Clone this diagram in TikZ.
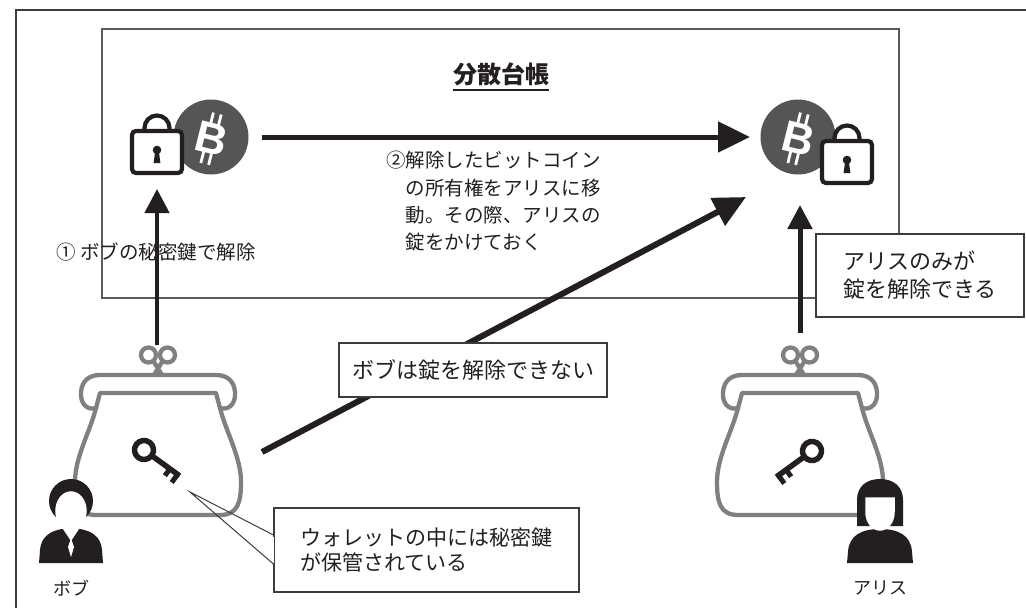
\documentclass[tikz,border=0pt]{standalone}
\usepackage{fontspec}
\setmainfont{Noto Sans CJK JP}
\newfontfamily\coinfont{Liberation Sans}
\usetikzlibrary{arrows.meta}

\definecolor{ink}{RGB}{35,31,32}
\definecolor{coingray}{RGB}{85,85,85}
\definecolor{pursegray}{RGB}{128,128,128}
\definecolor{framegray}{RGB}{60,60,60}
\definecolor{ledgergray}{RGB}{90,90,90}

\newcommand\setfs[2]{\fontsize{#1}{#2}\selectfont}

\tikzset{
  purseline/.style={draw=pursegray, line width=4.3pt, line join=round, line cap=round},
  boxed/.style={draw=framegray, line width=1.1pt, fill=white, text=ink, inner sep=0pt},
  label/.style={text=ink, inner sep=0pt},
  arrowH/.style={draw=ink, line width=5pt, -{Triangle[length=32pt,width=30pt]}},
  arrowV/.style={draw=ink, line width=4.5pt, -{Triangle[length=24pt,width=24pt]}},
  arrowD/.style={draw=ink, line width=6pt, -{Triangle[length=32pt,width=30pt]}},
  % clasp purse, origin at the centre of the top of its frame
  purse/.pic={
    \draw[purseline] (-9.5,-22) circle (7.5pt) (9.5,-22) circle (7.5pt);
    \draw[purseline] (-4,-15) -- (4,-2) (4,-15) -- (-4,-2);
    \draw[purseline, fill=white] (-58,16) -- (58,16) -- (62,31)
      .. controls (72,34) and (78,25) .. (77,15)
      .. controls (76,3) and (68,-2) .. (58,-2) -- (-58,-2)
      .. controls (-68,-2) and (-76,3) .. (-77,15)
      .. controls (-78,25) and (-72,34) .. (-62,31) -- cycle;
    \draw[purseline] (-62,31) .. controls (-68,55) and (-83,80) .. (-83,105)
      .. controls (-83,125) and (-80,138) .. (-62,138) -- (62,138)
      .. controls (80,138) and (83,125) .. (83,105)
      .. controls (83,80) and (68,55) .. (62,31);
  },
  % private key, head at the origin, shaft along +x
  key/.pic={
    \draw[ink, line width=5.5pt] (0,0) circle (9.5pt);
    \draw[ink, line width=5.5pt] (10,0) -- (44,0);
    \draw[ink, line width=5pt] (41.5,-1) -- (41.5,10) (32,-1) -- (32,8.5);
  },
  % padlock, origin at the centre of its body
  lock/.pic={
    \draw[ink, line width=4.2pt] (-12.5,-21) -- (-12.5,-24) arc (180:0:12.5pt) -- (12.5,-21);
    \draw[ink, line width=4.2pt, fill=white, rounded corners=4pt] (-25,-21) rectangle (25,21);
    \fill[ink] (0,-2) circle (4.3pt);
    \fill[ink] (-1.8,-1) -- (1.8,-1) -- (3.4,11) -- (-3.4,11) -- cycle;
  },
  % bitcoin coin
  coin/.pic={
    \fill[coingray] (0,0) circle (37.5pt);
    \node[text=white, inner sep=0pt, rotate=-14,
          font=\coinfont\bfseries\setfs{44}{44}] at (1,2) {B};
    \begin{scope}[shift={(1,2)}, rotate=-14]
      \draw[white, line width=2.8pt] (-5,-26) -- (-5,-14) (3,-26) -- (3,-14)
                                     (-5,14) -- (-5,26) (3,14) -- (3,26);
    \end{scope}
  },
}

\begin{document}
\begin{tikzpicture}[x=1pt, y=-1pt]
\useasboundingbox (0,0) rectangle (1026,608);
\clip (0,0) rectangle (1026,608);
\fill[white] (0,0) rectangle (1026,608);

% outer frame
\draw[framegray, line width=1.3pt] (16,640) -- (16,10) -- (1060,10);

% distributed ledger
\node[draw=ledgergray, line width=1.3pt, minimum width=797pt, minimum height=269pt,
      inner sep=0pt] (ledger) at (500.5,163.5) {};
\node[label, font=\bfseries\setfs{24}{24}] (ledgertitle) at (501,74) {分散台帳};
\draw[ink, line width=1.4pt] ([yshift=-4pt]ledgertitle.south west)
                          -- ([yshift=-4pt]ledgertitle.south east);

% arrow end points
\coordinate (bobcoinout) at (262,137);
\coordinate (alicecoinin) at (750,137);
\coordinate (bobcoinin) at (157,189);
\coordinate (bobpurseout) at (157,345);
\coordinate (alicecoinup) at (800,205);
\coordinate (alicepurseout) at (800,333);
\coordinate (bobkeyout) at (262,452);
\coordinate (alicecoindiag) at (746,197);
\coordinate (keytip) at (190,492);

% arrows
\draw[arrowH] (bobcoinout) -- (alicecoinin);
\draw[arrowV] (bobpurseout) -- (bobcoinin);
\draw[arrowV, line width=5pt] (alicepurseout) -- (alicecoinup);
\draw[arrowD] (bobkeyout) -- (alicecoindiag);

% coins and padlocks
\pic (bobcoin) at (211,137) {coin};
\pic (boblock) at (157,152) {lock};
\pic (alicecoin) at (798,137) {coin};
\pic (alicelock) at (847,162) {lock};

% wallets with keys
\pic (bobwallet) at (158,377) {purse};
\pic (alicewallet) at (800,377) {purse};
\pic[rotate=-36] (bobkey) at (144,450) {key};
\pic[rotate=36, xscale=-1] (alicekey) at (812,451) {key};

% Bob
\fill[ink] (71,501) circle (22pt);
\fill[ink] (39,563) -- (40,550) .. controls (41,537) and (50,531) .. (62,529)
  -- (80,529) .. controls (92,531) and (101,537) .. (102,550) -- (103,563) -- cycle;
\fill[white] (63,529) -- (71,541) -- (79,529) -- cycle;
\fill[white] (71,538) -- (74,547) -- (71,557) -- (68,547) -- cycle;
\filldraw[fill=white, draw=white, line width=1.5pt] (71,511) ellipse (15pt and 19pt);
\node[label, font=\setfs{18}{18}] (bobname) at (71,588) {ボブ};

% Alice
\fill[ink] (857,526) -- (857,500) .. controls (857,486) and (867,479) .. (880,479)
  .. controls (893,479) and (903,486) .. (903,500) -- (903,526) -- cycle;
\fill[ink] (847,563) -- (848,552) .. controls (849,535) and (862,529) .. (880,529)
  .. controls (898,529) and (911,535) .. (912,552) -- (913,563) -- cycle;
\filldraw[fill=white, draw=white, line width=1.5pt] (866,498) -- (894,498) -- (894,512)
  .. controls (894,523) and (887,530) .. (880,530)
  .. controls (873,530) and (866,523) .. (866,512) -- cycle;
\node[label, font=\setfs{18}{18}] (alicename) at (880,588) {アリス};

% step labels
\node[label, anchor=west, font=\setfs{19.5}{19.5}] (stepone) at (56,252)
  {① ボブの秘密鍵で解除};
\node[label, anchor=north west, align=left, font=\setfs{19.5}{27.3}] (steptwo) at (386,151)
  {②解除したビットコイン\\\hspace*{1em}の所有権をアリスに移\\\hspace*{1em}動。その際、アリスの\\\hspace*{1em}錠をかけておく};

% notes
\node[boxed, minimum width=268pt, minimum height=54pt, font=\setfs{22}{22}]
  (bobcannot) at (473,370) {ボブは錠を解除できない};
\node[boxed, minimum width=208pt, minimum height=83pt, align=left, font=\setfs{22}{28}]
  (aliceonly) at (920,275.5) {アリスのみが\\錠を解除できる};
\node[boxed, minimum width=305pt, minimum height=84pt, align=left, font=\setfs{21}{25}]
  (walletnote) at (426.5,550) {ウォレットの中には秘密鍵\\が保管されている};
\draw[white, line width=2pt] ([yshift=13.5pt]walletnote.west) -- ([yshift=-12.5pt]walletnote.west);
\draw[framegray, line width=1pt, line join=miter] ([yshift=15pt]walletnote.west)
  -- (keytip) -- ([yshift=-14pt]walletnote.west);
\end{tikzpicture}
\end{document}
